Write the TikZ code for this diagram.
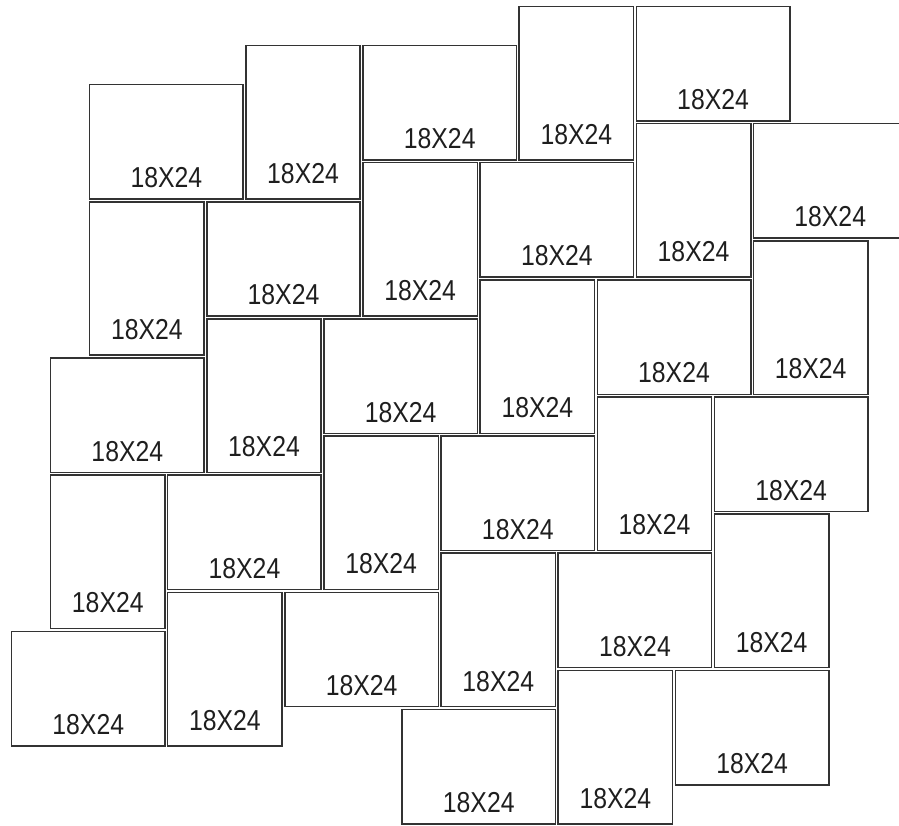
\documentclass[tikz,border=0pt]{standalone}
\usepackage{fontspec}
\newfontfamily\tilefont{Liberation Sans}[FakeStretch=0.86]
\definecolor{Edge}{HTML}{333333}
\definecolor{Ink}{HTML}{1E1E1E}
\tikzset{
    tile/.style={rectangle, draw=Edge, line width=1.1pt, inner sep=0pt, anchor=north west, xshift=0.2mm, yshift=-0.2mm, text=Ink, font=\tilefont\fontsize{21}{21}\selectfont, text depth=0pt},
    landtile/.style={tile, minimum width=3.93cm, minimum height=2.93cm, text height=2.35cm},
    porttile/.style={tile, minimum width=2.93cm, minimum height=3.93cm, text height=3.13cm},
}
\begin{document}
\begin{tikzpicture}

    \useasboundingbox (-0.256,-21.0) rectangle (22.766,0.128);
    \clip (-0.256,-21.0) rectangle (22.766,0.128);

    % Top band
    \node[landtile] (t1) at (2,-2) {18X24};
    \node[porttile] (t2) at (6,-1) {18X24};
    \node[landtile] (t3) at (9,-1) {18X24};
    \node[porttile] (t4) at (13,0) {18X24};
    \node[landtile] (t5) at (16,0) {18X24};
    \node[landtile] (t6) at (19,-3) {18X24};
    \node[porttile] (t7) at (16,-3) {18X24};
    \node[landtile] (t8) at (12,-4) {18X24};
    \node[porttile] (t9) at (9,-4) {18X24};
    \node[landtile] (t10) at (5,-5) {18X24};
    \node[porttile] (t11) at (2,-5) {18X24};

    % Middle band
    \node[landtile] (t12) at (1,-9) {18X24};
    \node[porttile] (t13) at (5,-8) {18X24};
    \node[landtile] (t14) at (8,-8) {18X24};
    \node[porttile] (t15) at (12,-7) {18X24};
    \node[landtile] (t16) at (15,-7) {18X24};
    \node[porttile] (t17) at (19,-6) {18X24};
    \node[landtile] (t18) at (18,-10) {18X24};
    \node[porttile] (t19) at (15,-10) {18X24};
    \node[landtile] (t20) at (11,-11) {18X24};
    \node[porttile] (t21) at (8,-11) {18X24};
    \node[landtile] (t22) at (4,-12) {18X24};
    \node[porttile] (t23) at (1,-12) {18X24};

    % Bottom band
    \node[landtile] (t24) at (0,-16) {18X24};
    \node[porttile] (t25) at (4,-15) {18X24};
    \node[landtile] (t26) at (7,-15) {18X24};
    \node[porttile] (t27) at (11,-14) {18X24};
    \node[landtile] (t28) at (14,-14) {18X24};
    \node[porttile] (t29) at (18,-13) {18X24};
    \node[landtile] (t30) at (17,-17) {18X24};
    \node[porttile] (t31) at (14,-17) {18X24};
    \node[landtile] (t32) at (10,-18) {18X24};

\end{tikzpicture}
\end{document}
